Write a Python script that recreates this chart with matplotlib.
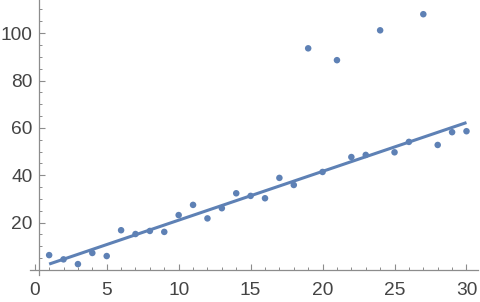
import numpy as np
import matplotlib
matplotlib.use("Agg")
import matplotlib.pyplot as plt
from matplotlib.ticker import MultipleLocator

x = list(range(1, 31))
y = [6.3, 4.5, 2.5, 7.2, 5.9, 16.8, 15.2, 16.5, 16.1, 23.2,
     27.5, 21.8, 26.1, 32.4, 31.3, 30.3, 38.9, 35.9, 93.6, 41.4,
     88.6, 47.7, 48.6, 101.2, 49.7, 54.1, 108.0, 52.8, 58.2, 58.6]
fit_slope = 2.06
fit_intercept = 0.45
fit_x = [1, 30]

blue = (0.368417, 0.506779, 0.709798)
axis_gray = "#8c8c8c"
label_gray = "#444444"

fig = plt.figure(figsize=(4.8, 3.02), dpi=100)
ax = fig.add_axes([30/480, 27/302, 448/480, 275/302])

fx = np.array(fit_x, dtype=float)
ax.plot(fx, fit_intercept + fit_slope * fx, color=blue, lw=2.2, solid_capstyle="butt", zorder=2)
ax.scatter(x, y, s=22, color=blue, edgecolors="none", zorder=3)

ax.set_xlim(-0.33, 30.8)
ax.set_ylim(-2.1, 114.0)

for s in ["top", "right"]:
    ax.spines[s].set_visible(False)
ax.spines["left"].set_position(("data", 0.32))
ax.spines["bottom"].set_position(("data", 0))
for s in ["left", "bottom"]:
    ax.spines[s].set_color(axis_gray)
    ax.spines[s].set_linewidth(0.9)

ax.xaxis.set_major_locator(MultipleLocator(5))
ax.xaxis.set_minor_locator(MultipleLocator(1))
ax.yaxis.set_major_locator(MultipleLocator(20))
ax.yaxis.set_minor_locator(MultipleLocator(5))

ax.tick_params(axis="both", which="major", direction="in", length=4, width=0.8,
               color=axis_gray, labelcolor=label_gray, labelsize=13.8)
ax.tick_params(axis="both", which="minor", direction="in", length=2.5, width=0.7,
               color=axis_gray)
ax.tick_params(axis="x", which="major", pad=8.5)
ax.tick_params(axis="y", which="major", pad=5)

ax.set_xticks([0, 5, 10, 15, 20, 25, 30])
ax.set_yticks([20, 40, 60, 80, 100])
for lab in ax.get_xticklabels() + ax.get_yticklabels():
    lab.set_family("Liberation Sans")

fig.savefig("out.png", dpi=100)
